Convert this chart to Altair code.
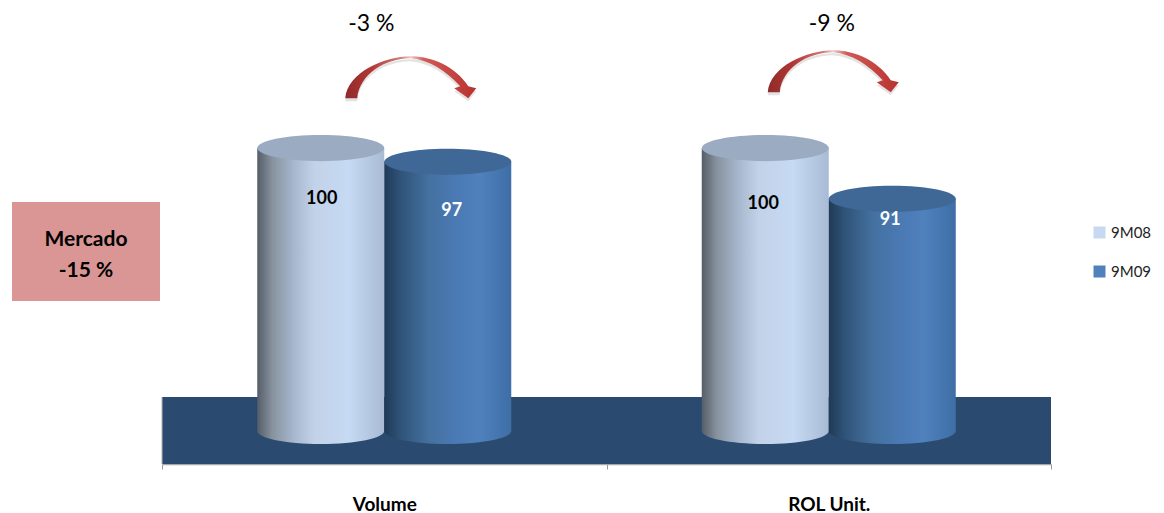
import altair as alt
import pandas as pd

categories = ["Volume", "ROL Unit."]
series = ["9M08", "9M09"]
values_9m08 = [100, 100]
values_9m09 = [97.45, 90.55]
labels_9m08 = ["100", "100"]
labels_9m09 = ["97", "91"]
changes = ["-3 %", "-9 %"]
market_lines = ["Mercado", "-15 %"]

FONT = "Lato"
BASE = 47.1
FLOOR_TOP, FLOOR_BOTTOM = 53.46, 40.93
Y_DOMAIN = [40.93, 126.2]
CYL_W = 127.0

rows = []
for c, a, b, la, lb in zip(categories, values_9m08, values_9m09, labels_9m08, labels_9m09):
    rows.append({"cat": c, "series": series[0], "value": a, "label": la})
    rows.append({"cat": c, "series": series[1], "value": b, "label": lb})
df = pd.DataFrame(rows)
df["base"] = BASE

x_enc = alt.X("cat:N", sort=categories,
              scale=alt.Scale(type="band", paddingInner=0, paddingOuter=0),
              axis=alt.Axis(title=None, labelAngle=0, labelFont=FONT, labelFontSize=19,
                            labelFontWeight="bold", labelColor="#000000", labelPadding=26,
                            tickBand="extent", tickSize=5, tickColor="#9a9a9a",
                            domainColor="#a6a6a6", domainWidth=1.5, grid=False))
xo = alt.XOffset("series:N", sort=series,
                 scale=alt.Scale(paddingInner=0, paddingOuter=0.75))
y_scale = alt.Scale(domain=Y_DOMAIN, nice=False, zero=False)
y_val = alt.Y("value:Q", scale=y_scale, axis=None)
y_base = alt.Y("base:Q", scale=y_scale, axis=None)


def grad(stops, x2=1, y2=0):
    return alt.Gradient(gradient="linear", x1=0, y1=0, x2=x2, y2=y2,
                        stops=[alt.GradientStop(offset=o, color=c) for o, c in stops])


light = grad([(0, "#555d68"), (0.12, "#87939f"), (0.3, "#a9b9d0"), (0.45, "#c2d2e8"),
              (0.72, "#c6daf3"), (1, "#a9bbd4")])
dark = grad([(0, "#1f3a57"), (0.12, "#2f5277"), (0.35, "#44719f"), (0.55, "#4a79b3"),
             (0.75, "#4f81bd"), (1, "#3f6ea6")])
tops = {"9M08": "#9aabc2", "9M09": "#3f6897"}
walls = {"9M08": light, "9M09": dark}

ELLIPSE = "M-1,0 A1,0.205,0,1,1,1,0 A1,0.205,0,1,1,-1,0 Z"
size = CYL_W ** 2

floor = alt.Chart(pd.DataFrame({"a": [FLOOR_TOP], "b": [FLOOR_BOTTOM]})).mark_rect(color="#2a4a70").encode(
    x=alt.value(0), x2=alt.value(889),
    y=alt.Y("a:Q", scale=y_scale, axis=None), y2="b:Q")
floor_edge = alt.Chart(pd.DataFrame({"a": [FLOOR_TOP], "b": [FLOOR_BOTTOM]})).mark_rule(color="#b5b5b5", strokeWidth=1).encode(
    x=alt.value(0), y=alt.Y("a:Q", scale=y_scale, axis=None), y2="b:Q")

layers = [floor, floor_edge]
for s in series:
    sub = alt.Chart(df).transform_filter(alt.datum.series == s)
    layers.append(sub.mark_point(shape=ELLIPSE, size=size, filled=True, opacity=1, fill=walls[s], stroke=None)
                  .encode(x=x_enc, xOffset=xo, y=y_base))
    layers.append(sub.mark_bar(fill=walls[s]).encode(x=x_enc, xOffset=xo, y=y_val, y2="base:Q"))
    layers.append(sub.mark_point(shape=ELLIPSE, size=size, filled=True, opacity=1, fill=tops[s], stroke=None)
                  .encode(x=x_enc, xOffset=xo, y=y_val))

# data labels, per cylinder offset
label_style = [("Volume", "9M08", "#000000", 1, 51), ("Volume", "9M09", "#ffffff", 4, 49),
               ("ROL Unit.", "9M08", "#000000", -2, 56), ("ROL Unit.", "9M09", "#ffffff", -2, 21)]
for c, s, col, dx, dy in label_style:
    sub = alt.Chart(df[(df.cat == c) & (df.series == s)])
    layers.append(sub.mark_text(font=FONT, fontSize=18, fontWeight="bold", color=col, dx=dx, dy=dy)
                  .encode(x=x_enc, xOffset=xo, y=y_val, text="label:N"))

# curved arrows (path in px units, size=4)
ARROW = ("M-65,18 C-63,-8,-25,-24,0,-24 C22,-24,45,-14,58,6 L66,8 L58,18 L44,8 L50,6 "
         "C35,-10,20,-20,0,-22 C-25,-22,-51,-6,-53,18 Z")
arrow_fill = grad([(0, "#8f2b2a"), (0.2, "#b33735"), (0.42, "#cf7a78"), (0.5, "#eeccca"),
                   (0.6, "#d25a57"), (1, "#b8322f")])
for c, dx, yv in [(categories[0], 26, 112.7), (categories[1], 4, 113.8)]:
    d = alt.Chart(pd.DataFrame({"cat": [c], "y": [yv]}))
    layers.append(d.mark_point(shape=ARROW, size=4, filled=True, fill="#808080", opacity=0.22, stroke=None,
                               xOffset=dx, yOffset=3)
                  .encode(x=x_enc, y=alt.Y("y:Q", scale=y_scale, axis=None)))
    layers.append(d.mark_point(shape=ARROW, size=4, filled=True, fill=arrow_fill, opacity=1, stroke=None,
                               xOffset=dx)
                  .encode(x=x_enc, y=alt.Y("y:Q", scale=y_scale, axis=None)))

for c, t, dx in [(categories[0], changes[0], -13), (categories[1], changes[1], 3)]:
    d = alt.Chart(pd.DataFrame({"cat": [c], "y": [123.2], "t": [t]}))
    layers.append(d.mark_text(font=FONT, fontSize=23, color="#000000", dx=dx)
                  .encode(x=x_enc, y=alt.Y("y:Q", scale=y_scale, axis=None), text="t:N"))

# market box
box = alt.Chart(pd.DataFrame({"k": [0]})).mark_rect(color="#d99694").encode(
    x=alt.value(-150), x2=alt.value(-2), y=alt.value(194), y2=alt.value(293))
layers.append(box)
for t, yp in zip(market_lines, [232, 263]):
    layers.append(alt.Chart(pd.DataFrame({"t": [t]})).mark_text(font=FONT, fontSize=21, fontWeight="bold", color="#000000")
                  .encode(x=alt.value(-76), y=alt.value(yp), text="t:N"))

# legend carrier
legend_layer = alt.Chart(df).mark_square(size=0, opacity=1).encode(
    x=x_enc, xOffset=xo, y=y_val,
    color=alt.Color("series:N", sort=series,
                    scale=alt.Scale(domain=series, range=["#c6d9f1", "#4f81bd"]),
                    legend=alt.Legend(title=None, orient="none", legendX=930, legendY=217,
                                      symbolType="square", symbolSize=144, symbolStrokeWidth=0,
                                      labelFont=FONT, labelFontSize=15, labelColor="#222222",
                                      rowPadding=23, labelOffset=4)))
layers.append(legend_layer)

chart = alt.layer(*layers).resolve_scale(x="shared", y="shared").properties(
    width=889, height=456, autosize="none",
    padding={"left": 154, "top": 0, "right": 105, "bottom": 49},
    background="#ffffff",
).configure_view(stroke=None)

chart.save("out.html", embed_options={"renderer": "svg", "actions": False})
